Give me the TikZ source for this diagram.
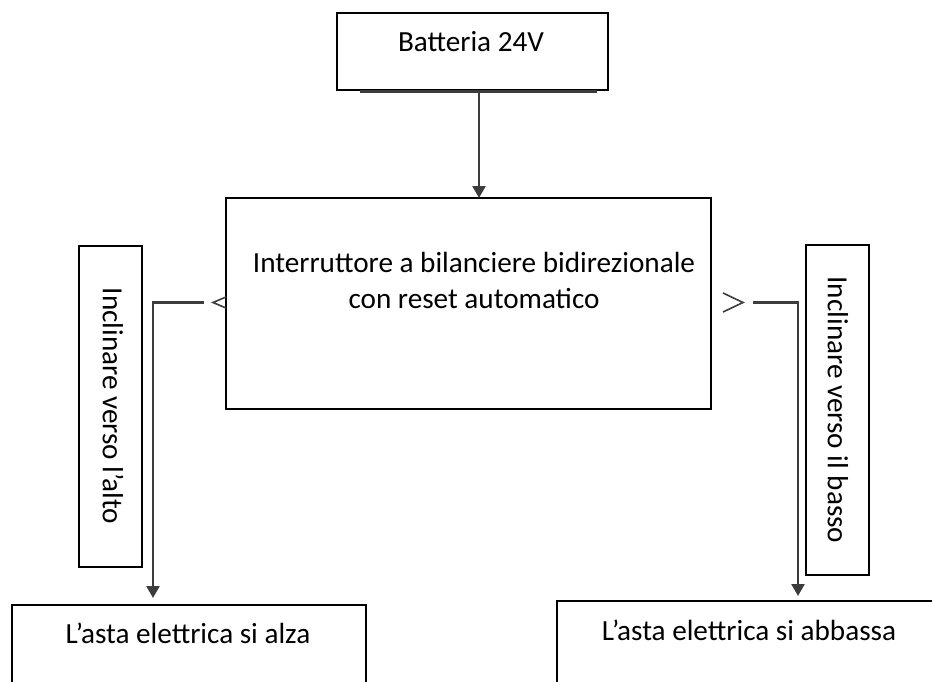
\documentclass[tikz,border=0pt]{standalone}
\usepackage{fontspec}
\setmainfont{Carlito}
\usetikzlibrary{arrows.meta}
\definecolor{lineg}{HTML}{3C3C3C}
\tikzset{
  box/.style={draw=black, line width=1.2pt, fill=white, inner sep=0pt},
  txt/.style={inner sep=0pt, font=\fontsize{29.2}{35}\selectfont, text=black},
  conn/.style={draw=lineg, line width=2.4pt},
  arr/.style={conn, -{Triangle[length=12pt,width=13pt]}},
  chev/.style={draw=lineg, line width=1.6pt}
}
\begin{document}
\begin{tikzpicture}[x=1pt,y=-1pt]
\useasboundingbox (0,0) rectangle (932,682);
\clip (0,0) rectangle (932,682);
% boxes
\node[box, minimum width=271pt, minimum height=77pt] (batt) at (472.5,51.5) {};
\node[box, minimum width=485pt, minimum height=211pt] (mid) at (468.5,303.5) {};
\node[box, minimum width=63pt, minimum height=321pt] (lv) at (110.5,406.5) {};
\node[box, minimum width=63pt, minimum height=330pt] (rv) at (837.5,410) {};
\node[box, minimum width=354pt, minimum height=95pt] (lb) at (189,652.5) {};
\node[box, minimum width=388pt, minimum height=99pt] (rb) at (751,650.5) {};
% texts
\node[txt, anchor=base] (tbatt) at (471,52) {Batteria 24V};
\node[txt, anchor=base] (tmid1) at (474,272) {Interruttore a bilanciere bidirezionale};
\node[txt, anchor=base] (tmid2) at (474,308) {con reset automatico};
\node[txt, rotate=-90] (tlv) at (113,406) {Inclinare verso l’alto};
\node[txt, rotate=-90] (trv) at (838,410) {Inclinare verso il basso};
\node[txt, anchor=base] (tlb) at (188,643) {L’asta elettrica si alza};
\node[txt, anchor=base] (trb) at (749,640) {L’asta elettrica si abbassa};
% shadow under battery box
\coordinate (sh1) at (360,91.5);
\coordinate (sh2) at (597,91.5);
\draw[draw=lineg, line width=2.5pt] (sh1) -- (sh2);
% battery -> switch
\coordinate (a1) at (479,93);
\coordinate (a2) at (479,198);
\draw[arr] (a1) -- (a2);
% left branch
\coordinate (lchev) at (213,302.5);
\draw[chev] (226,297) -- (lchev) -- (226,308);
\coordinate (ls) at (204,302.5);
\coordinate (lc) at (153,302.5);
\coordinate (le) at (153,598);
\draw[arr] (ls) -- (lc) -- (le);
% right branch
\coordinate (rchev) at (743,302.5);
\draw[chev] (723,293) -- (rchev) -- (723,312);
\coordinate (rs) at (753,302.5);
\coordinate (rc) at (798,302.5);
\coordinate (re) at (798,596);
\draw[arr] (rs) -- (rc) -- (re);
\end{tikzpicture}
\end{document}
